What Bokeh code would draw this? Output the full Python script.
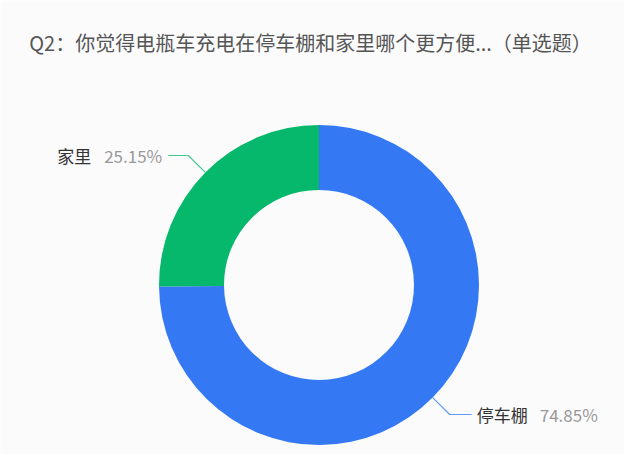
import math
from bokeh.plotting import figure
from bokeh.models import Range1d, ColumnDataSource
from bokeh.core.properties import value
from bokeh.embed import file_html
from bokeh.resources import INLINE

title = "Q2：你觉得电瓶车充电在停车棚和家里哪个更方便...（单选题）"
categories = ["停车棚", "家里"]
shares = [74.85, 25.15]
colors = ["#3478F4", "#06B86B"]

W, H = 624, 454
BG = "#fbfbfc"
FONT = "Noto Sans CJK SC"

p = figure(width=W, height=H, output_backend="svg", toolbar_location=None,
           x_range=Range1d(0, W), y_range=Range1d(0, H), min_border=0)
p.axis.visible = False
p.grid.visible = False
p.outline_line_color = None
p.background_fill_color = BG
p.border_fill_color = BG

cx, cy = 318.5, 169.5
r_out, r_in = 160, 95

total = sum(shares)
start = math.pi / 2
starts, ends, mids = [], [], []
for s in shares:
    a = s / total * 2 * math.pi
    starts.append(start)
    ends.append(start - a)
    mids.append(start - a / 2)
    start -= a

src = ColumnDataSource(dict(start=starts, end=ends, color=colors))
p.annular_wedge(x=cx, y=cy, inner_radius=r_in, outer_radius=r_out,
                start_angle="start", end_angle="end", direction="clock",
                fill_color="color", line_color=None, source=src)

for cat, s, m, c in zip(categories, shares, mids, colors):
    x0 = cx + r_out * math.cos(m)
    y0 = cy + r_out * math.sin(m)
    x1 = cx + (r_out + 24) * math.cos(m)
    y1 = cy + (r_out + 24) * math.sin(m)
    right = math.cos(m) >= 0
    x2 = x1 + (22 if right else -20)
    p.line([x0, x1, x2], [y0, y1, y1], line_color=c, line_width=1.2, line_alpha=0.75)
    pct = f"{s:.2f}%"
    if right:
        p.text(x=[x2 + 5], y=[y1], text=[cat], text_align="left", text_baseline="middle",
               text_font=value(FONT), text_font_size="17px", text_color="#333333")
        p.text(x=[x2 + 68], y=[y1], text=[pct], text_align="left", text_baseline="middle",
               text_font=value(FONT), text_font_size="17px", text_color="#999999")
    else:
        p.text(x=[x2 - 6], y=[y1], text=[pct], text_align="right", text_baseline="middle",
               text_font=value(FONT), text_font_size="17px", text_color="#999999")
        p.text(x=[x2 - 77], y=[y1], text=[cat], text_align="right", text_baseline="middle",
               text_font=value(FONT), text_font_size="17px", text_color="#333333")

p.text(x=[W / 2 - 2], y=[H - 42], text=[title], text_align="center", text_baseline="middle",
       text_font=value(FONT), text_font_size="20px", text_color="#555555")

open("out.html", "w").write(file_html(p, INLINE))
